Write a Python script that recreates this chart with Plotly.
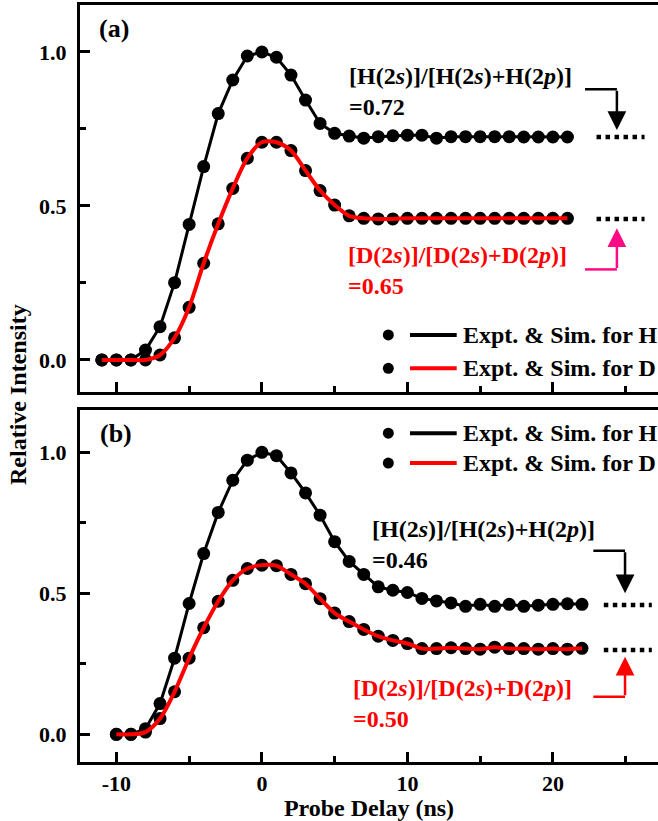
import plotly.graph_objects as go

# ---------------- data ----------------
# panel (a)
delay_a = list(range(-11, 22))
H_a = [0.0, 0.0, 0.0, 0.032, 0.108, 0.251, 0.44, 0.628, 0.80, 0.909, 0.987,
       1.0, 0.983, 0.925, 0.844, 0.768, 0.736, 0.727, 0.72, 0.725, 0.728, 0.73,
       0.73, 0.72, 0.725, 0.725, 0.725, 0.725, 0.725, 0.724, 0.724, 0.724, 0.724]
D_a = [0.0, 0.0, 0.0, 0.0, 0.016, 0.072, 0.171, 0.314, 0.442, 0.557, 0.655,
       0.707, 0.707, 0.68, 0.615, 0.55, 0.503, 0.468, 0.46, 0.458, 0.458, 0.46,
       0.46, 0.46, 0.46, 0.46, 0.46, 0.46, 0.46, 0.46, 0.46, 0.46, 0.46]
# panel (b)
delay_b = list(range(-10, 23))
H_b = [0.0, 0.0, 0.02, 0.109, 0.27, 0.464, 0.641, 0.787, 0.901, 0.972,
       1.0, 0.988, 0.927, 0.856, 0.777, 0.683, 0.613, 0.567, 0.523, 0.511,
       0.503, 0.482, 0.473, 0.466, 0.454, 0.461, 0.454, 0.461, 0.454, 0.458,
       0.461, 0.463, 0.461]
D_b = [0.0, 0.0, 0.008, 0.056, 0.151, 0.27, 0.378, 0.472, 0.546, 0.588,
       0.6, 0.598, 0.567, 0.534, 0.481, 0.43, 0.4, 0.372, 0.348, 0.333,
       0.322, 0.304, 0.304, 0.307, 0.304, 0.302, 0.309, 0.304, 0.304, 0.302,
       0.304, 0.302, 0.305]

# asymptotic levels (dotted) and ratios
level_x_a = [23.0, 26.3]
level_x_b = [23.5, 26.8]
levels_a = {"H": 0.724, "D": 0.458}
levels_b = {"H": 0.4585, "D": 0.299}
ratio_a = {"H": "0.72", "D": "0.65"}
ratio_b = {"H": "0.46", "D": "0.50"}

x_ticks = [-10, 0, 10, 20]
x_ticktext = ["-10", "0", "10", "20"]
y_ticks = [0.0, 0.5, 1.0]
y_ticktext = ["0.0", "0.5", "1.0"]

FONT = "Liberation Serif"
RED = "#FF0000"
PINK = "#FF0A84"

fig = go.Figure()

def add_panel(x, H, D, xa, ya):
    fig.add_trace(go.Scatter(x=x, y=H, mode="markers", xaxis=xa, yaxis=ya,
                             marker=dict(color="black", size=13), showlegend=False))
    fig.add_trace(go.Scatter(x=x, y=H, mode="lines", xaxis=xa, yaxis=ya,
                             line=dict(color="black", width=3), showlegend=False))
    fig.add_trace(go.Scatter(x=x, y=D, mode="markers", xaxis=xa, yaxis=ya,
                             marker=dict(color="black", size=13), showlegend=False))
    fig.add_trace(go.Scatter(x=x, y=D, mode="lines", xaxis=xa, yaxis=ya,
                             line=dict(color=RED, width=4, shape="spline", smoothing=0.8),
                             showlegend=False))

add_panel(delay_a, H_a, D_a, "x", "y")
add_panel(delay_b, H_b, D_b, "x2", "y2")

# dotted asymptote markers
for lx, lv, xa, ya in [(level_x_a, levels_a, "x", "y"), (level_x_b, levels_b, "x2", "y2")]:
    for k in ("H", "D"):
        fig.add_trace(go.Scatter(x=lx, y=[lv[k], lv[k]], mode="lines", xaxis=xa, yaxis=ya,
                                 line=dict(color="black", width=4.5, dash="dot"),
                                 showlegend=False))

XR = [-12.5, 27.225]
common_x = dict(range=XR, showline=True, linewidth=3, linecolor="black", mirror=True,
                ticks="inside", ticklen=10, tickwidth=3, tickcolor="black",
                tickvals=x_ticks, ticktext=x_ticktext, showgrid=False, zeroline=False,
                minor=dict(ticks="inside", ticklen=6, tickwidth=3, tickcolor="black",
                           dtick=5, tick0=0),
                tickfont=dict(family=FONT, size=22, color="black", weight="bold"))
common_y = dict(showline=True, linewidth=3, linecolor="black", mirror=False,
                ticks="inside", ticklen=10, tickwidth=3, tickcolor="black",
                tickvals=y_ticks, ticktext=y_ticktext, showgrid=False, zeroline=False,
                minor=dict(ticks="inside", ticklen=6, tickwidth=3, tickcolor="black",
                           dtick=0.25, tick0=0),
                ticklabelstandoff=6,
                tickfont=dict(family=FONT, size=22, color="black", weight="bold"))

fig.update_layout(
    width=658, height=821,
    margin=dict(l=80, r=0, t=5, b=59),
    paper_bgcolor="white", plot_bgcolor="white",
    font=dict(family=FONT, size=22, color="black", weight="bold"),
    xaxis=dict(common_x, anchor="y", domain=[0, 1], showticklabels=False),
    xaxis2=dict(common_x, anchor="y2", domain=[0, 1], matches="x",
                title=dict(text="Probe Delay (ns)", standoff=4,
                           font=dict(family=FONT, size=24, color="black", weight="bold"))),
    yaxis=dict(common_y, anchor="x", domain=[0.4888, 1], range=[-0.104, 1.1526]),
    yaxis2=dict(common_y, anchor="x2", domain=[0, 0.465], range=[-0.098, 1.15]),
    showlegend=False,
)

ann = []
shapes = []

def txt(x, y, text, xref, yref, color="black", size=24, xanchor="left"):
    ann.append(dict(x=x, y=y, xref=xref, yref=yref, text=text, showarrow=False,
                    xanchor=xanchor, yanchor="middle", align="left",
                    font=dict(family=FONT, size=size, color=color, weight="bold")))

def ratio_label(sp, val):
    return f"[{sp}(2<i>s</i>)]/[{sp}(2<i>s</i>)+{sp}(2<i>p</i>)]<br>={val}"

# panel labels
txt(-11.3, 1.077, "(a)", "x", "y", size=26)
txt(-11.25, 1.067, "(b)", "x2", "y2", size=26)

# ratio annotations (two-line blocks)
txt(5.85, 0.872, ratio_label("H", ratio_a["H"]), "x", "y")
txt(5.75, 0.2895, ratio_label("D", ratio_a["D"]), "x", "y", color=RED)
txt(7.45, 0.674, ratio_label("H", ratio_b["H"]), "x2", "y2")
txt(6.1, 0.1096, ratio_label("D", ratio_b["D"]), "x2", "y2", color=RED)

# arrows: horizontal leg as shape + vertical leg with head as annotation
def arrow(x0, xc, yc, ytip, xref, yref, color):
    shapes.append(dict(type="line", x0=x0, x1=xc, y0=yc, y1=yc, xref=xref, yref=yref,
                       line=dict(color=color, width=2.5)))
    ann.append(dict(x=xc, y=ytip, ax=xc, ay=yc, xref=xref, yref=yref,
                    axref=xref, ayref=yref, text="", showarrow=True,
                    arrowhead=2, arrowsize=1.5, arrowwidth=2.5, arrowcolor=color))

arrow(22.21, 24.40, 0.879, 0.747, "x", "y", "black")
arrow(22.21, 24.40, 0.294, 0.428, "x", "y", PINK)
arrow(22.78, 24.96, 0.651, 0.50, "x2", "y2", "black")
arrow(22.78, 24.96, 0.133, 0.275, "x2", "y2", RED)

# legends (drawn)
def legend(xref, yref, rows):
    for (yv, color, label) in rows:
        shapes.append(dict(type="circle", xref=xref, yref=yref, xsizemode="pixel",
                           ysizemode="pixel", xanchor=8.69, yanchor=yv,
                           x0=-5.5, x1=5.5, y0=-5.5, y1=5.5,
                           fillcolor="black", line=dict(color="black", width=0)))
        shapes.append(dict(type="line", xref=xref, yref=yref, x0=10.18, x1=13.39,
                           y0=yv, y1=yv, line=dict(color=color, width=4)))
        txt(13.7, yv, label, xref, yref)

legend("x", "y", [(0.0812, "black", "Expt. &amp; Sim. for H"),
                  (-0.027, RED, "Expt. &amp; Sim. for D")])
legend("x2", "y2", [(1.068, "black", "Expt. &amp; Sim. for H"),
                    (0.962, RED, "Expt. &amp; Sim. for D")])

# y title shared
ann.append(dict(x=-0.107, y=0.485, xref="paper", yref="paper", text="Relative Intensity",
                textangle=-90, showarrow=False, xanchor="center", yanchor="middle",
                font=dict(family=FONT, size=24, color="black", weight="bold")))

fig.update_layout(annotations=ann, shapes=shapes)
fig.write_html("out.html")
